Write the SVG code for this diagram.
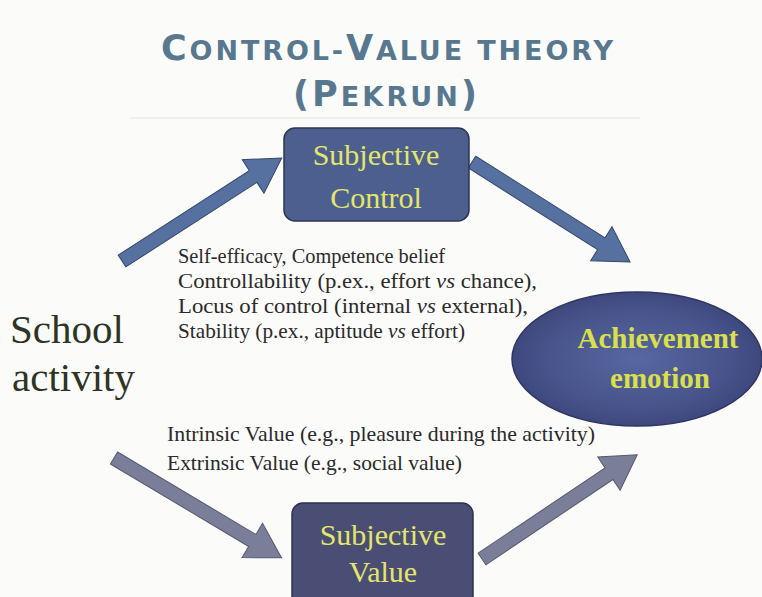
<svg xmlns="http://www.w3.org/2000/svg" width="762" height="597" viewBox="0 0 762 597">
<defs>
<style>
.title{font-family:"DejaVu Sans","Liberation Sans",sans-serif;font-weight:bold;fill:#587890;}
.big{font-size:35px;}
.small{font-size:27px;}
.node-text{font-family:"Liberation Serif","DejaVu Serif",serif;font-size:30px;fill:#e4e66c;text-anchor:middle;}
.emo-text{font-family:"Liberation Serif","DejaVu Serif",serif;font-size:29px;font-weight:bold;fill:#d9e04c;text-anchor:middle;}
.body{font-family:"Liberation Serif","DejaVu Serif",serif;font-size:21px;fill:#2a2a2a;}
.school{font-family:"Liberation Serif","DejaVu Serif",serif;font-size:41px;fill:#2e3324;}
.arrow-blue{fill:#5670a0;stroke:#34466c;stroke-width:1;}
.arrow-grey{fill:#7b7e98;stroke:#555870;stroke-width:1;}
</style>
<radialGradient id="emoGrad" cx="50%" cy="50%" r="55%">
<stop offset="0" stop-color="#5867a0"/>
<stop offset="0.7" stop-color="#47528a"/>
<stop offset="1" stop-color="#3a4478"/>
</radialGradient>
</defs>
<rect width="762" height="597" fill="#fbfbfa"/>
<g id="title">
<text class="title" x="387" y="60" text-anchor="middle" textLength="452" lengthAdjust="spacing"><tspan class="big">C</tspan><tspan class="small">ONTROL-</tspan><tspan class="big">V</tspan><tspan class="small">ALUE THEORY</tspan></text>
<text class="title" x="385" y="106" text-anchor="middle" textLength="184" lengthAdjust="spacing"><tspan class="big">(P</tspan><tspan class="small">EKRUN</tspan><tspan class="big">)</tspan></text>
<line x1="130" y1="118" x2="640" y2="118" stroke="#ececec" stroke-width="1.5"/>
</g>
<g id="connectors">
<polygon class="arrow-blue" transform="translate(122,261) rotate(-32.8)" points="0,-7 156,-7 156,-20 190,0 156,20 156,7 0,7"/>
<polygon class="arrow-blue" transform="translate(472,162) rotate(32.3)" points="0,-7 153,-7 153,-20 187,0 153,20 153,7 0,7"/>
<polygon class="arrow-grey" transform="translate(114,458) rotate(30.8)" points="0,-7 161,-7 161,-20 195,0 161,20 161,7 0,7"/>
<polygon class="arrow-grey" transform="translate(482,559) rotate(-33.9)" points="0,-7 153,-7 153,-20 187,0 153,20 153,7 0,7"/>
</g>
<g id="school-activity">
<text class="school" x="10" y="343">School</text>
<text class="school" x="12" y="391">activity</text>
</g>
<g id="subjective-control">
<rect x="284" y="128" width="185" height="93" rx="11" fill="#4d5f8f" stroke="#2c3652" stroke-width="1.5"/>
<text class="node-text" x="376" y="165">Subjective</text>
<text class="node-text" x="376" y="208">Control</text>
</g>
<g id="control-details">
<text class="body" x="178" y="263" textLength="267" lengthAdjust="spacingAndGlyphs">Self-efficacy, Competence belief</text>
<text class="body" x="178" y="288" textLength="359" lengthAdjust="spacingAndGlyphs">Controllability (p.ex., effort <tspan font-style="italic">vs</tspan> chance),</text>
<text class="body" x="178" y="313" textLength="350" lengthAdjust="spacingAndGlyphs">Locus of control (internal <tspan font-style="italic">vs</tspan> external),</text>
<text class="body" x="178" y="338" textLength="287" lengthAdjust="spacingAndGlyphs">Stability (p.ex., aptitude <tspan font-style="italic">vs</tspan> effort)</text>
</g>
<g id="achievement-emotion">
<ellipse cx="637" cy="359" rx="125" ry="67" fill="url(#emoGrad)" stroke="#2e3660" stroke-width="1.5"/>
<text class="emo-text" x="658" y="348">Achievement</text>
<text class="emo-text" x="660" y="388">emotion</text>
</g>
<g id="value-details">
<text class="body" x="167" y="441" textLength="428" lengthAdjust="spacingAndGlyphs">Intrinsic Value (e.g., pleasure during the activity)</text>
<text class="body" x="167" y="470" textLength="295" lengthAdjust="spacingAndGlyphs">Extrinsic Value (e.g., social value)</text>
</g>
<g id="subjective-value">
<rect x="292" y="503" width="181" height="110" rx="11" fill="#4b4e74" stroke="#2e3050" stroke-width="1.5"/>
<text class="node-text" x="383" y="545">Subjective</text>
<text class="node-text" x="383" y="582">Value</text>
</g>
</svg>
